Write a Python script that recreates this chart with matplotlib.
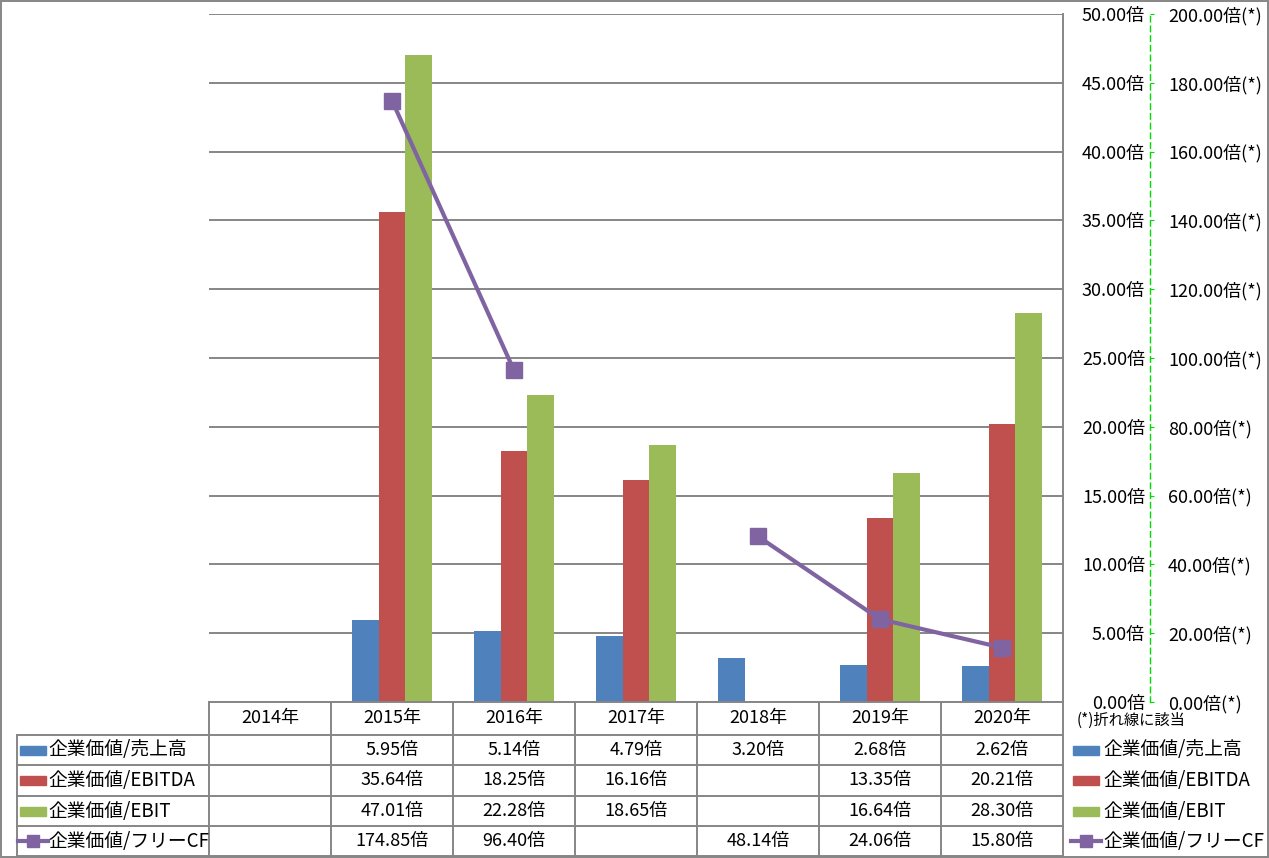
import numpy as np
import matplotlib
matplotlib.use("Agg")
import matplotlib.pyplot as plt
from matplotlib.lines import Line2D
from matplotlib.patches import Rectangle

plt.rcParams['font.family'] = ['Noto Sans CJK JP', 'DejaVu Sans']

years = ['2014年', '2015年', '2016年', '2017年', '2018年', '2019年', '2020年']
ev_sales = [None, 5.95, 5.14, 4.79, 3.20, 2.68, 2.62]
ev_ebitda = [None, 35.64, 18.25, 16.16, None, 13.35, 20.21]
ev_ebit = [None, 47.01, 22.28, 18.65, None, 16.64, 28.30]
ev_fcf = [None, 174.85, 96.40, None, 48.14, 24.06, 15.80]
names = ['企業価値/売上高', '企業価値/EBITDA', '企業価値/EBIT', '企業価値/フリーCF']
colors = ['#4F81BD', '#C0504D', '#9BBB59', '#8064A2']

W, H = 1269, 858
def fx(px): return px / W
def fy(py): return 1 - py / H

def arr(v):
    return np.array([np.nan if x is None else x for x in v], dtype=float)

fig = plt.figure(figsize=(W / 100, H / 100), dpi=100)
x0, x1, ytop, ybot = 209, 1063, 14, 702
ax = fig.add_axes([fx(x0), fy(ybot), fx(x1) - fx(x0), fy(ytop) - fy(ybot)])

gray = '#868686'
x = np.arange(len(years))
bw = 0.221
for i, s in enumerate([ev_sales, ev_ebitda, ev_ebit]):
    ax.bar(x + (i - 1) * bw, arr(s), width=bw, color=colors[i], zorder=2)

ax.set_xlim(-0.5, len(years) - 0.5)
ax.set_ylim(0, 50)
ax.set_xticks([])
ax.grid(axis='y', color=gray, lw=1.4, zorder=0)
for sp in ['left', 'top', 'right']:
    ax.spines[sp].set_visible(False)
ax.spines['bottom'].set_color(gray)
ax.spines['bottom'].set_linewidth(1.4)

ax2 = ax.twinx()
ax2.set_ylim(0, 200)
yt2 = np.arange(0, 201, 20)
ax2.set_yticks(yt2, labels=[f'{v:.2f}倍(*)' for v in yt2])
ax2.spines['right'].set_position(('axes', (1150 - x0) / (x1 - x0)))
ax2.spines['right'].set_color('#00DD00')
ax2.spines['right'].set_linestyle((0, (4, 3)))
ax2.spines['right'].set_linewidth(1)
for sp in ['left', 'top', 'bottom']:
    ax2.spines[sp].set_visible(False)
ax2.tick_params(axis='y', colors='#00DD00', labelcolor='black', length=3, pad=10, labelsize=13)
ax2.plot(x, arr(ev_fcf), color=colors[3], lw=3, marker='s', markersize=12,
         markeredgecolor=colors[3], zorder=5, solid_capstyle='round')

# primary axis labels sit on the right, right-aligned before the green line
yt = np.arange(0, 51, 5)
ax.set_yticks(yt, labels=[f'{v:.2f}倍' for v in yt])
ax.yaxis.tick_right()
ax.tick_params(axis='y', length=0, pad=82 * 0.72, labelsize=13)
for t in ax.yaxis.get_major_ticks():
    t.label2.set_horizontalalignment('right')

# table
def hline(y, xa, xb):
    fig.add_artist(Line2D([fx(xa), fx(xb)], [fy(y), fy(y)], color=gray, lw=1.4))
def vline(xx, ya, yb):
    fig.add_artist(Line2D([fx(xx), fx(xx)], [fy(ya), fy(yb)], color=gray, lw=1.4))

col = (x1 - x0) / len(years)
rows = [702, 735, 765, 796, 826, 856]
for y in rows[1:]:
    hline(y, 17, x1)
vline(17, 735, 856)
for k in range(len(years)):
    vline(x0 + col * k, 702, 856)
vline(x1, ytop, 856)

for k, yr in enumerate(years):
    fig.text(fx(x0 + col * (k + 0.5)), fy((rows[0] + rows[1]) / 2), yr,
             ha='center', va='center', fontsize=13)

series = [ev_sales, ev_ebitda, ev_ebit, ev_fcf]
for r, s in enumerate(series):
    yc = (rows[r + 1] + rows[r + 2]) / 2
    for k, v in enumerate(s):
        if v is not None:
            fig.text(fx(x0 + col * (k + 0.5)), fy(yc), f'{v:.2f}倍',
                     ha='center', va='center', fontsize=13)

def key(xa, yc, r):
    if r < 3:
        fig.add_artist(Rectangle((fx(xa), fy(yc + 4.5)), fx(26), 9 / H,
                                 color=colors[r], transform=fig.transFigure))
    else:
        fig.add_artist(Line2D([fx(xa - 2), fx(xa + 28)], [fy(yc), fy(yc)], color=colors[3],
                              lw=3, transform=fig.transFigure))
        fig.add_artist(Line2D([fx(xa + 13)], [fy(yc)], color=colors[3], marker='s',
                              markersize=9, transform=fig.transFigure))

for r, nm in enumerate(names):
    yc = (rows[r + 1] + rows[r + 2]) / 2
    key(20, yc, r)
    fig.text(fx(48), fy(yc), nm, ha='left', va='center', fontsize=13.5)
    key(1073, yc, r)
    fig.text(fx(1103), fy(yc), nm, ha='left', va='center', fontsize=13.5)

fig.text(fx(1077), fy(720), '(*)折れ線に該当', ha='left', va='center', fontsize=11)

fig.add_artist(Rectangle((fx(1), fy(857)), fx(1267), 856 / H, fill=False,
                         edgecolor=gray, lw=1.4, transform=fig.transFigure))

plt.savefig('out.png', dpi=100)
